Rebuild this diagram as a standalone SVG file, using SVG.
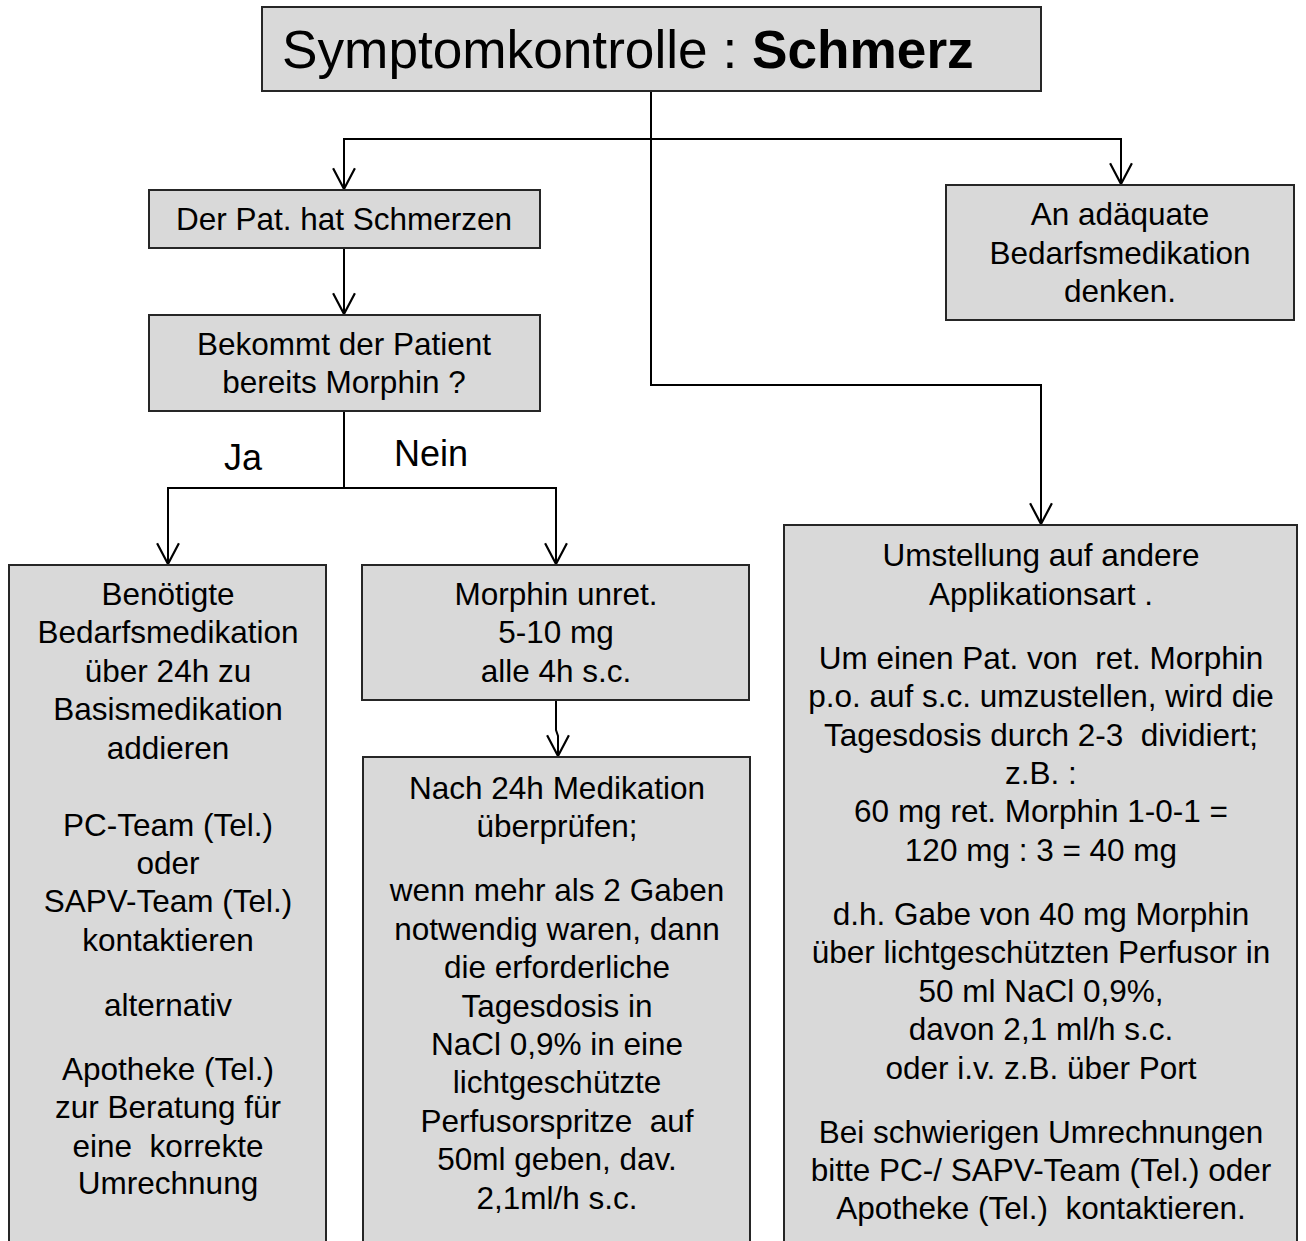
<svg xmlns="http://www.w3.org/2000/svg" width="1306" height="1241" viewBox="0 0 1306 1241">
<style>
.box{fill:#d9d9d9;stroke:#262626;stroke-width:2}
.t{font-family:"Liberation Sans",Arial,sans-serif;font-size:31.5px;fill:#000;text-anchor:middle}
.lbl{font-family:"Liberation Sans",Arial,sans-serif;font-size:36px;fill:#000;text-anchor:middle}
.c{fill:none;stroke:#000;stroke-width:2}
</style>
<defs>
<marker id="arr" markerUnits="userSpaceOnUse" markerWidth="24" markerHeight="24" viewBox="0 0 20 22" refX="19" refY="11" orient="auto">
<path d="M0,1 L19,11 L0,21" fill="none" stroke="#000" stroke-width="2"/>
</marker>
</defs>
<rect width="1306" height="1241" fill="#fff"/>
<g id="connectors">
<path class="c" d="M651,91 V139"/>
<path class="c" d="M651,139 H344 V189" marker-end="url(#arr)"/>
<path class="c" d="M651,139 H1121 V184" marker-end="url(#arr)"/>
<path class="c" d="M651,139 V385 H1041 V524" marker-end="url(#arr)"/>
<path class="c" d="M344,248 V314" marker-end="url(#arr)"/>
<path class="c" d="M344,411 V488"/>
<path class="c" d="M344,488 H168 V564" marker-end="url(#arr)"/>
<path class="c" d="M344,488 H556 V564" marker-end="url(#arr)"/>
<path class="c" d="M556,700 V730 L558,736 V756" marker-end="url(#arr)"/>
</g>
<g id="labels">
<text class="lbl" x="243" y="470">Ja</text>
<text class="lbl" x="431" y="466">Nein</text>
</g>
<g id="title">
<rect class="box" x="262" y="7" width="779" height="84"/>
<text x="282" y="68" style="font-family:'Liberation Sans',Arial,sans-serif;font-size:53.2px">Symptomkontrolle : <tspan font-weight="bold">Schmerz</tspan></text>
</g>
<g id="schmerzen">
<rect class="box" x="149" y="190" width="391" height="58"/>
<text class="t" x="344" y="230">Der Pat. hat Schmerzen</text>
</g>
<g id="morphin-frage">
<rect class="box" x="149" y="315" width="391" height="96"/>
<text class="t" x="344" y="355">Bekommt der Patient</text>
<text class="t" x="344" y="393">bereits Morphin ?</text>
</g>
<g id="bedarf">
<rect class="box" x="946" y="185" width="348" height="135"/>
<text class="t" x="1120" y="225">An adäquate</text>
<text class="t" x="1120" y="264">Bedarfsmedikation</text>
<text class="t" x="1120" y="302">denken.</text>
</g>
<g id="ja-box">
<rect class="box" x="9" y="565" width="317" height="700"/>
<text class="t" x="168" y="605">Benötigte</text>
<text class="t" x="168" y="643">Bedarfsmedikation</text>
<text class="t" x="168" y="682">über 24h zu</text>
<text class="t" x="168" y="720">Basismedikation</text>
<text class="t" x="168" y="759">addieren</text>
<text class="t" x="168" y="836">PC-Team (Tel.)</text>
<text class="t" x="168" y="874">oder</text>
<text class="t" x="168" y="912">SAPV-Team (Tel.)</text>
<text class="t" x="168" y="951">kontaktieren</text>
<text class="t" x="168" y="1016">alternativ</text>
<text class="t" x="168" y="1080">Apotheke (Tel.)</text>
<text class="t" x="168" y="1118">zur Beratung für</text>
<text class="t" x="168" y="1157" xml:space="preserve">eine  korrekte</text>
<text class="t" x="168" y="1194">Umrechnung</text>
</g>
<g id="nein-box">
<rect class="box" x="362" y="565" width="387" height="135"/>
<text class="t" x="556" y="605">Morphin unret.</text>
<text class="t" x="556" y="643">5-10 mg</text>
<text class="t" x="556" y="682">alle 4h s.c.</text>
</g>
<g id="nach24h">
<rect class="box" x="363" y="757" width="387" height="520"/>
<text class="t" x="557" y="799">Nach 24h Medikation</text>
<text class="t" x="557" y="837">überprüfen;</text>
<text class="t" x="557" y="901">wenn mehr als 2 Gaben</text>
<text class="t" x="557" y="940">notwendig waren, dann</text>
<text class="t" x="557" y="978">die erforderliche</text>
<text class="t" x="557" y="1017">Tagesdosis in</text>
<text class="t" x="557" y="1055">NaCl 0,9% in eine</text>
<text class="t" x="557" y="1093">lichtgeschützte</text>
<text class="t" x="557" y="1132" xml:space="preserve">Perfusorspritze  auf</text>
<text class="t" x="557" y="1170">50ml geben, dav.</text>
<text class="t" x="557" y="1209">2,1ml/h s.c.</text>
</g>
<g id="umstellung">
<rect class="box" x="784" y="525" width="513" height="750"/>
<text class="t" x="1041" y="566">Umstellung auf andere</text>
<text class="t" x="1041" y="605">Applikationsart .</text>
<text class="t" x="1041" y="669" xml:space="preserve">Um einen Pat. von  ret. Morphin</text>
<text class="t" x="1041" y="707">p.o. auf s.c. umzustellen, wird die</text>
<text class="t" x="1041" y="746" xml:space="preserve">Tagesdosis durch 2-3  dividiert;</text>
<text class="t" x="1041" y="784">z.B. :</text>
<text class="t" x="1041" y="822">60 mg ret. Morphin 1-0-1 =</text>
<text class="t" x="1041" y="861">120 mg : 3 = 40 mg</text>
<text class="t" x="1041" y="925">d.h. Gabe von 40 mg Morphin</text>
<text class="t" x="1041" y="963">über lichtgeschützten Perfusor in</text>
<text class="t" x="1041" y="1002">50 ml NaCl 0,9%,</text>
<text class="t" x="1041" y="1040">davon 2,1 ml/h s.c.</text>
<text class="t" x="1041" y="1079">oder i.v. z.B. über Port</text>
<text class="t" x="1041" y="1143">Bei schwierigen Umrechnungen</text>
<text class="t" x="1041" y="1181">bitte PC-/ SAPV-Team (Tel.) oder</text>
<text class="t" x="1041" y="1219" xml:space="preserve">Apotheke (Tel.)  kontaktieren.</text>
</g>
</svg>
